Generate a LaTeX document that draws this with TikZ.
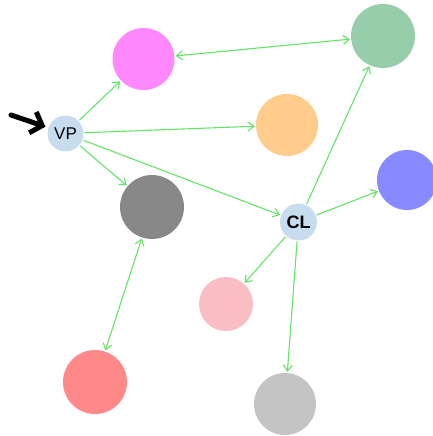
\documentclass[tikz,border=0pt]{standalone}
\usepackage{fontspec}
\setmainfont{Liberation Sans}
\usetikzlibrary{arrows.meta}

\definecolor{linkgreen}{RGB}{100,228,100}
\definecolor{phaseblue}{RGB}{200,220,240}
\definecolor{cmagenta}{RGB}{255,136,255}
\definecolor{cseagreen}{RGB}{150,205,170}
\definecolor{corange}{RGB}{255,204,140}
\definecolor{cblue}{RGB}{136,136,255}
\definecolor{cdarkgray}{RGB}{136,136,136}
\definecolor{cpink}{RGB}{248,190,196}
\definecolor{cred}{RGB}{255,136,136}
\definecolor{clightgray}{RGB}{196,196,196}

\begin{document}
\begin{tikzpicture}[x=1pt, y=-1pt,
    >={Straight Barb[length=6pt, width=9pt]},
    blob/.style={circle, minimum size=62pt, inner sep=0pt},
    phase/.style={circle, fill=phaseblue, minimum size=36pt, inner sep=0pt},
    link/.style={draw=linkgreen, line width=1.1pt, shorten >=1pt, shorten <=1pt}]
    \useasboundingbox (0,0) rectangle (432,436);
    \node[phase, font=\fontsize{17}{19}\selectfont] (vp) at (65.5,133.5) {VP};
    \node[phase, minimum size=37pt, font=\fontsize{18}{20}\selectfont\bfseries] (cl) at (298.5,222) {CL};
    \node[blob, fill=cmagenta] (magenta) at (143.5,59) {};
    \node[blob, fill=cseagreen, minimum size=64pt] (seagreen) at (383,36) {};
    \node[blob, fill=corange] (orange) at (287,125) {};
    \node[blob, fill=cdarkgray, minimum size=64pt] (darkgray) at (152,207) {};
    \node[blob, fill=cblue, minimum size=60pt] (blue) at (407,180) {};
    \node[blob, fill=cpink, minimum size=54pt] (pink) at (226,304) {};
    \node[blob, fill=cred, minimum size=64pt] (red) at (95,382) {};
    \node[blob, fill=clightgray] (lightgray) at (285,404) {};
    \coordinate (pointer) at (11,115);
    \draw[->, line width=5pt, line cap=round, shorten >=3pt,
        >={Straight Barb[length=10pt, width=22pt]}] (pointer) -- (vp);
    \draw[link, ->] (vp) -- (magenta);
    \draw[link, ->] (vp) -- (orange);
    \draw[link, ->] (vp) -- (darkgray);
    \draw[link, ->] (vp) -- (cl);
    \draw[link, <->] (magenta) -- (seagreen);
    \draw[link, ->] (cl) -- (seagreen);
    \draw[link, ->] (cl) -- (blue);
    \draw[link, ->] (cl) -- (pink);
    \draw[link, ->] (cl) -- (lightgray);
    \draw[link, <->] (darkgray) -- (red);
\end{tikzpicture}
\end{document}
